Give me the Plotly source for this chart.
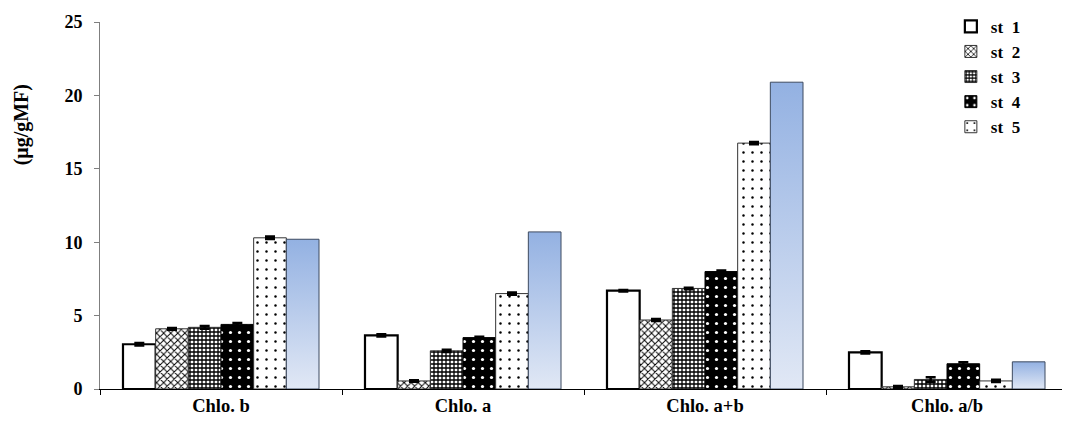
import plotly.graph_objects as go

categories = ["Chlo. b", "Chlo. a", "Chlo. a+b", "Chlo. a/b"]
series_names = ["st\u00a0\u00a01", "st\u00a0\u00a02", "st\u00a0\u00a03", "st\u00a0\u00a04", "st\u00a0\u00a05"]
st1 = [3.05, 3.65, 6.70, 2.50]
st2 = [4.10, 0.55, 4.70, 0.15]
st3 = [4.20, 2.60, 6.85, 0.65]
st4 = [4.40, 3.50, 8.00, 1.72]
st5 = [10.30, 6.50, 16.75, 0.55]
st6 = [10.20, 10.70, 20.90, 1.85]
err1 = [0.08, 0.08, 0.05, 0.08]
err2 = [0.06, 0.05, 0.06, 0.06]
err3 = [0.10, 0.08, 0.05, 0.15]
err4 = [0.10, 0.06, 0.08, 0.10]
err5 = [0.08, 0.08, 0.08, 0.08]
y_ticks = [0, 5, 10, 15, 20, 25]

FONT = "Liberation Serif"
BARGAP = 0.19
N_BARS = 6

xs = list(range(len(categories)))

styles = [
    dict(pattern=None, line=dict(color="black", width=2.2)),
    dict(pattern=dict(shape="x", fgcolor="black", bgcolor="white", size=5, solidity=0.35),
         line=dict(color="#333333", width=1)),
    dict(pattern=dict(shape="+", fgcolor="black", bgcolor="white", size=4, solidity=0.55),
         line=dict(color="#333333", width=1)),
    dict(pattern=dict(shape=".", fgcolor="white", bgcolor="black", size=9, solidity=0.1),
         line=dict(color="black", width=1)),
    dict(pattern=dict(shape=".", fgcolor="black", bgcolor="white", size=9, solidity=0.06),
         line=dict(color="#333333", width=1)),
]

fig = go.Figure()
for name, vals, errs, st in zip(series_names, [st1, st2, st3, st4, st5],
                                [err1, err2, err3, err4, err5], styles):
    marker = dict(color="white", line=st["line"])
    if st["pattern"] is not None:
        marker["pattern"] = dict(fillmode="replace", **st["pattern"])
    fig.add_trace(go.Bar(
        x=xs, y=vals, name=name, marker=marker,
        error_y=dict(type="data", array=errs, color="black", thickness=2.5, width=5),
    ))

# sixth (unlabelled) series: placeholder bar for grouping, gradient drawn on top
fig.add_trace(go.Bar(x=xs, y=st6, name="st 6", showlegend=False,
                     marker=dict(color="rgba(0,0,0,0)", line=dict(width=0))))

group_w = 1 - BARGAP
bar_w = group_w / N_BARS
for i, v in enumerate(st6):
    left = xs[i] - group_w / 2 + 5 * bar_w
    right = left + bar_w
    fig.add_trace(go.Scatter(
        x=[left, right, right, left, left], y=[0, 0, v, v, 0],
        mode="lines", fill="toself", showlegend=False, hoverinfo="skip",
        line=dict(color="#3d4a60", width=1),
        fillgradient=dict(type="vertical",
                          colorscale=[[0, "#e1e8f5"], [1, "#93b1e2"]]),
    ))

fig.update_layout(
    width=1062, height=415,
    margin=dict(l=92, r=2, t=14, b=34, autoexpand=False),
    paper_bgcolor="white", plot_bgcolor="white",
    barmode="group", bargap=BARGAP, bargroupgap=0,
    font=dict(family=FONT, size=16, color="black"),
    legend=dict(x=0.879, y=1.036, xanchor="left", yanchor="top",
                bgcolor="rgba(0,0,0,0)", tracegroupgap=0,
                font=dict(family=FONT, size=17, color="black", weight="bold"),
                itemwidth=30),
    showlegend=True,
)
fig.update_xaxes(
    range=[-0.5, len(categories) - 0.5],
    tickvals=xs, ticktext=[f"<b>{c}</b>" for c in categories],
    ticks="", showgrid=False, zeroline=False,
    showline=True, linecolor="black", linewidth=1,
    tickfont=dict(family=FONT, size=18.5, color="black"),
    minor=dict(tickvals=[x - 0.5 for x in xs] + [xs[-1] + 0.5],
               ticks="outside", ticklen=5, tickcolor="black", showgrid=False),
)
fig.update_yaxes(
    range=[0, 25], tickvals=y_ticks, ticktext=[f"<b>{t}</b>" for t in y_ticks],
    ticks="outside", ticklen=5, tickcolor="#7f7f7f",
    showgrid=False, zeroline=False,
    showline=True, linecolor="#7f7f7f", linewidth=1,
    tickfont=dict(family=FONT, size=18, color="black"),
    ticklabelstandoff=8,
)
fig.add_annotation(
    text="<b>(μg/gMF)</b>", textangle=-90, xref="paper", yref="paper",
    x=-0.081, y=0.72, xanchor="center", yanchor="middle", showarrow=False,
    font=dict(family=FONT, size=20, color="black"),
)

fig.write_html("out.html")
